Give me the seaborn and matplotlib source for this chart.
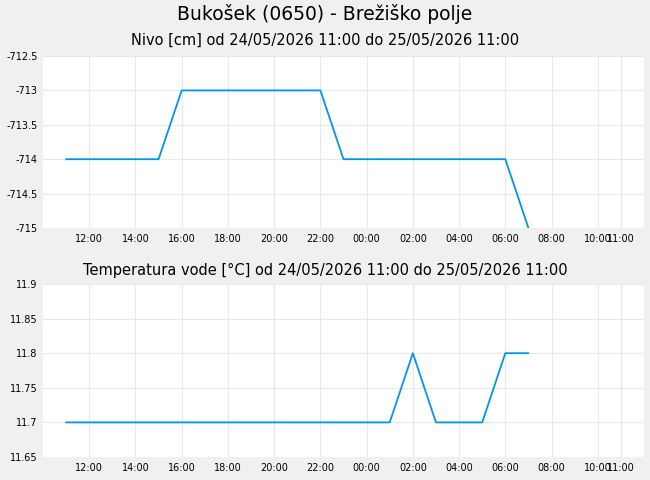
import pandas as pd
import matplotlib
matplotlib.use("Agg")
import matplotlib.pyplot as plt
import matplotlib.dates as mdates
import seaborn as sns

#hourly readings from 24/05/2026 11:00
hours = pd.date_range("2026-05-24 11:00", "2026-05-25 07:00", freq="h")
nivo = [-714, -714, -714, -714, -714, -713, -713, -713, -713, -713, -713, -713,
        -714, -714, -714, -714, -714, -714, -714, -714, -715]
temp = [11.7, 11.7, 11.7, 11.7, 11.7, 11.7, 11.7, 11.7, 11.7, 11.7, 11.7, 11.7,
        11.7, 11.7, 11.7, 11.8, 11.7, 11.7, 11.7, 11.8, 11.8]

nivo_ticks = [-712.5, -713, -713.5, -714, -714.5, -715]
nivo_labels = ["-712.5", "-713", "-713.5", "-714", "-714.5", "-715"]
temp_ticks = [11.9, 11.85, 11.8, 11.75, 11.7, 11.65]
temp_labels = ["11.9", "11.85", "11.8", "11.75", "11.7", "11.65"]
x_ticks = pd.date_range("2026-05-24 12:00", "2026-05-25 10:00", freq="2h").append(
    pd.DatetimeIndex(["2026-05-25 11:00"]))

df = pd.DataFrame({"cas": hours, "nivo": nivo, "temp": temp})

sns.set_theme(style="whitegrid")
plt.rcParams["font.family"] = ["DejaVu Sans"]
plt.rcParams["text.color"] = "black"
plt.rcParams["xtick.color"] = "black"
plt.rcParams["ytick.color"] = "black"

fig = plt.figure(figsize=(6.5, 4.8), dpi=100, facecolor="#f0f0f0")
ax1 = fig.add_axes([43 / 650, 1 - 228 / 480, 601 / 650, 172 / 480])
ax2 = fig.add_axes([43 / 650, 1 - 457 / 480, 601 / 650, 173 / 480])

line_color = "#0096ee"
sns.lineplot(data=df, x="cas", y="nivo", ax=ax1, color=line_color, linewidth=1.3)
sns.lineplot(data=df, x="cas", y="temp", ax=ax2, color=line_color, linewidth=1.3)

for ax, ticks, labels, lims in [
    (ax1, nivo_ticks, nivo_labels, (-715, -712.5)),
    (ax2, temp_ticks, temp_labels, (11.65, 11.9)),
]:
    ax.set_facecolor("white")
    ax.set_xlim(pd.Timestamp("2026-05-24 10:00"), pd.Timestamp("2026-05-25 12:00"))
    ax.set_ylim(*lims)
    ax.set_yticks(ticks)
    ax.set_yticklabels(labels)
    ax.set_xticks(x_ticks)
    ax.xaxis.set_major_formatter(mdates.DateFormatter("%H:%M"))
    ax.tick_params(axis="both", labelsize=7, length=0, pad=4, labelcolor="black")
    ax.grid(True, color="#e8e8e8", linewidth=0.8)
    ax.set_xlabel("")
    ax.set_ylabel("")
    for s in ax.spines.values():
        s.set_visible(False)

fig.text(0.5, 1 - 14 / 480, "Bukošek (0650) - Brežiško polje", ha="center", va="center",
         fontsize=13.5, color="black")
fig.text(0.5, 1 - 40 / 480, "Nivo [cm] od 24/05/2026 11:00 do 25/05/2026 11:00", ha="center",
         va="center", fontsize=10.5, color="black")
fig.text(0.5, 1 - 270 / 480, "Temperatura vode [°C] od 24/05/2026 11:00 do 25/05/2026 11:00",
         ha="center", va="center", fontsize=10.5, color="black")

fig.savefig("out.png", dpi=100, facecolor=fig.get_facecolor())
